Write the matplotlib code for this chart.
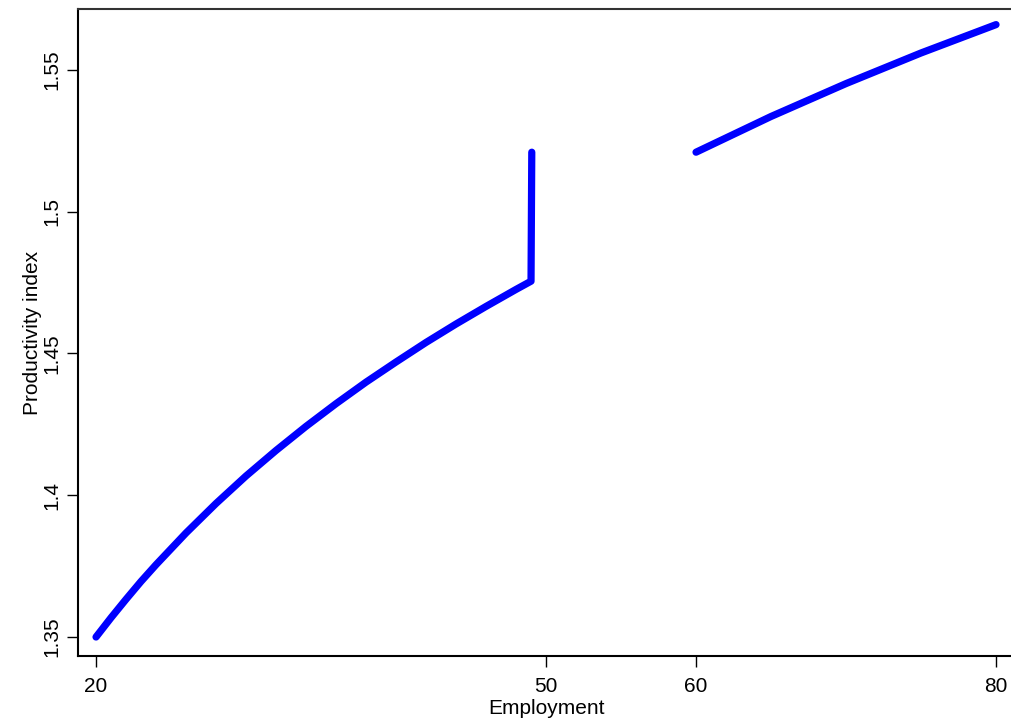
import numpy as np
import matplotlib
matplotlib.use("Agg")
import matplotlib.pyplot as plt

# Data
emp_low = [20, 21, 22, 23, 24, 26, 28, 30, 32, 34, 36, 38, 40, 42, 44, 46, 48, 49, 49.05]
prod_low = [1.350, 1.3568, 1.3633, 1.3696, 1.3755, 1.3867, 1.3971, 1.4068, 1.4158,
            1.4243, 1.4323, 1.4399, 1.4470, 1.4539, 1.4604, 1.4666, 1.4726, 1.4755, 1.521]
emp_high = [60, 65, 70, 75, 80]
prod_high = [1.521, 1.5336, 1.5452, 1.556, 1.566]

xticks = [20, 50, 60, 80]
yticks = [1.35, 1.4, 1.45, 1.5, 1.55]
ytick_labels = ["1.35", "1.4", "1.45", "1.5", "1.55"]

plt.rcParams['font.family'] = ['Liberation Sans', 'DejaVu Sans']

fig = plt.figure(figsize=(10.12, 7.22), dpi=100)
# axes ends right at the image edge, no right border
ax = fig.add_axes([0.0771, 0.0914, 0.925, 0.8961])

ax.plot(emp_low, prod_low, color='#0000ff', lw=5.2, solid_capstyle='round',
        solid_joinstyle='round')
ax.plot(emp_high, prod_high, color='#0000ff', lw=5.2, solid_capstyle='round',
        solid_joinstyle='round')

ax.set_xlim(18.8, 18.8 + 0.925 * 1012 / 15)
ax.set_ylim(1.3433, 1.5715)
ax.set_xticks(xticks)
ax.set_xticklabels([str(t) for t in xticks])
ax.set_yticks(yticks)
ax.set_yticklabels(ytick_labels, rotation=90, va='center')

ax.tick_params(direction='out', length=8, width=1.0, labelsize=15)
ax.tick_params(axis='x', pad=7)
ax.tick_params(axis='y', pad=4)
ax.spines['right'].set_visible(False)
for s in ['left', 'top', 'bottom']:
    ax.spines[s].set_linewidth(1.5)
    ax.spines[s].set_color('black')
ax.spines['top'].set_color('#333333')

ax.set_xlabel('Employment', fontsize=15, labelpad=2)
ax.set_ylabel('Productivity index', fontsize=15, labelpad=0)

fig.savefig('out.png', dpi=100)
